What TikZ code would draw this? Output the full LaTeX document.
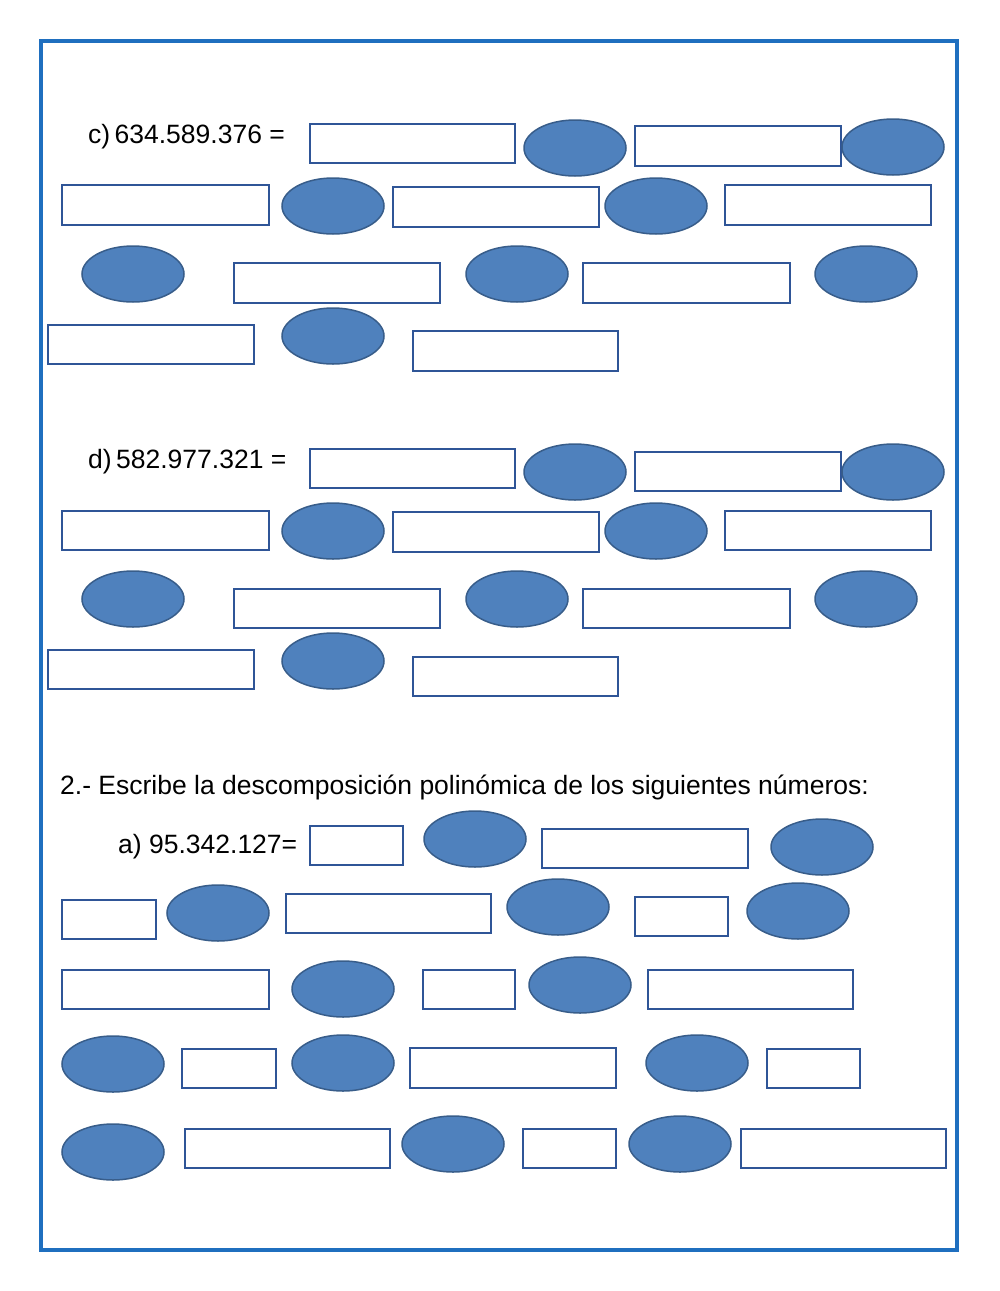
\documentclass[tikz,border=0pt]{standalone}
\usepackage{fontspec}
\setmainfont{Liberation Sans}
\definecolor{frame}{HTML}{1F6FBF}
\definecolor{efill}{HTML}{4F81BD}
\definecolor{edraw}{HTML}{385D8A}
\definecolor{rdraw}{HTML}{2F5597}
\tikzset{box/.style={draw=rdraw,line width=2.6pt},
ov/.style={draw=edraw,fill=efill,line width=1.5pt},
lbl/.style={anchor=west,inner sep=0pt,font=\fontsize{26.5}{30}\selectfont}}
\begin{document}
\begin{tikzpicture}[x=1pt,y=-1pt]
\useasboundingbox (0,0) rectangle (1000,1291);
\draw[frame,line width=4pt] (41,41) rectangle (957,1250);
\newcommand{\bx}[4]{\draw[box] (#1,#2) rectangle (#3,#4);}
\newcommand{\el}[2]{\draw[ov] (#1,#2) ellipse [x radius=51,y radius=28];}
\node[lbl] (c) at (88,137) {c)\,634.589.376 =};
\bx{310}{124}{515}{163}\bx{635}{126}{841}{166}\bx{62}{185}{269}{225}\bx{393}{187}{599}{227}\bx{725}{185}{931}{225}\bx{234}{263}{440}{303}\bx{583}{263}{790}{303}\bx{48}{325}{254}{364}\bx{413}{331}{618}{371}
\el{575}{148}\el{893}{147}\el{333}{206}\el{656}{206}\el{133}{274}\el{517}{274}\el{866}{274}\el{333}{336}
\node[lbl] (d) at (88,462) {d)\,582.977.321 =};
\bx{310}{449}{515}{488}\bx{635}{452}{841}{491}\bx{62}{511}{269}{550}\bx{393}{512}{599}{552}\bx{725}{511}{931}{550}\bx{234}{589}{440}{628}\bx{583}{589}{790}{628}\bx{48}{650}{254}{689}\bx{413}{657}{618}{696}
\el{575}{472}\el{893}{472}\el{333}{531}\el{656}{531}\el{133}{599}\el{517}{599}\el{866}{599}\el{333}{661}
\node[lbl] (h) at (60,787) {2.- Escribe la descomposición polinómica de los siguientes números:};
\node[lbl] (a) at (118,847) {a) 95.342.127=};
\bx{310}{826}{403}{865}\bx{542}{829}{748}{868}\bx{62}{900}{156}{939}\bx{286}{894}{491}{933}\bx{635}{897}{728}{936}\bx{62}{970}{269}{1009}\bx{423}{970}{515}{1009}\bx{648}{970}{853}{1009}\bx{182}{1049}{276}{1088}\bx{410}{1048}{616}{1088}\bx{767}{1049}{860}{1088}\bx{185}{1129}{390}{1168}\bx{523}{1129}{616}{1168}\bx{741}{1129}{946}{1168}
\el{475}{839}\el{822}{847}\el{218}{913}\el{558}{907}\el{798}{911}\el{343}{989}\el{580}{985}\el{113}{1064}\el{343}{1063}\el{697}{1063}\el{113}{1152}\el{453}{1144}\el{680}{1144}
\end{tikzpicture}
\end{document}
